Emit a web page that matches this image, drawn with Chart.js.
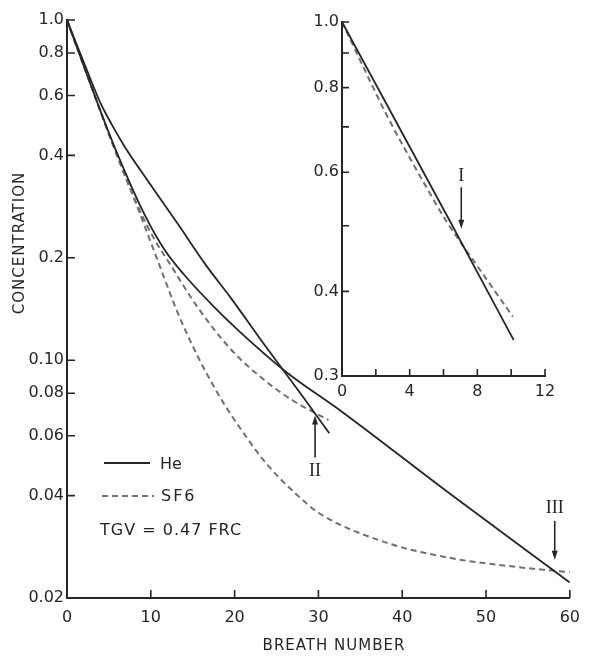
<!DOCTYPE html>
<html lang="en">
<head>
    <meta charset="UTF-8">
    <title>He and SF6 washout - breath number vs concentration</title>
    <script src="https://cdn.jsdelivr.net/npm/chart.js"></script>
    <style>
        body { margin: 0; background: #fff; }
        .wrap { position: relative; width: 590px; height: 657px; }
        #main-chart { position: absolute; left: 0; top: 0; }
        #inset-chart { position: absolute; left: 300px; top: 0; }
    </style>
</head>
<body>
    <div class="wrap">
        <canvas id="main-chart" width="590" height="657"></canvas>
        <canvas id="inset-chart" width="290" height="420"></canvas>
    </div>

    <script>
        // Main panel: concentration vs breath number (log y)
        const heShortX = [0, 2.3, 4, 5.4, 7, 9.35, 13.3, 16.6, 19.5, 23.8, 28, 31.3];
        const heShortY = [1, 0.72, 0.57, 0.49, 0.42, 0.345, 0.25, 0.19, 0.153, 0.109, 0.079, 0.061];
        const heLongX = [0, 2.3, 5.4, 9.35, 11.7, 14, 17.6, 20.5, 26, 33, 45.7, 60];
        const heLongY = [1, 0.70, 0.44, 0.265, 0.21, 0.178, 0.143, 0.122, 0.093, 0.07, 0.0405, 0.0222];
        const sf6ShortX = [0, 2.3, 5.4, 8.4, 10.5, 12.1, 15.6, 19.5, 23.4, 27, 31.2];
        const sf6ShortY = [1, 0.70, 0.435, 0.285, 0.225, 0.195, 0.143, 0.108, 0.088, 0.076, 0.0667];
        const sf6LongX = [0, 2.3, 5.4, 8.4, 10.7, 13.65, 17.6, 21.5, 24, 27.3, 30.1, 37.9, 45.8, 53.5, 60];
        const sf6LongY = [1, 0.70, 0.435, 0.282, 0.20, 0.13, 0.083, 0.059, 0.049, 0.0405, 0.0355, 0.0292, 0.0262, 0.0247, 0.0238];

        const mainXTicks = [0, 10, 20, 30, 40, 50, 60];
        const mainYTicks = [1, 0.8, 0.6, 0.4, 0.2, 0.1, 0.08, 0.06, 0.04, 0.02];
        const mainYLabels = ['1.0', '0.8', '0.6', '0.4', '0.2', '0.10', '0.08', '0.06', '0.04', '0.02'];

        // Inset: first 12 breaths
        const insetHeX = [0, 6.4, 10.15];
        const insetHeY = [1, 0.507, 0.339];
        const insetSf6X = [0, 2.64, 4.8, 6.19, 8, 10.1];
        const insetSf6Y = [1, 0.729, 0.581, 0.507, 0.436, 0.367];

        const insetXTicks = [0, 2, 4, 6, 8, 10, 12];
        const insetXLabels = ['0', '', '4', '', '8', '', '12'];
        const insetYTicks = [1, 0.9, 0.8, 0.7, 0.6, 0.5, 0.4, 0.3];
        const insetYLabels = ['1.0', '', '0.8', '', '0.6', '', '0.4', '0.3'];

        const INK = '#262626';
        const DASH_INK = '#707070';
        const FONT = "'DejaVu Sans', 'Liberation Sans', sans-serif";

        function series(label, xs, ys, dashed) {
            return {
                label: label,
                data: xs.map((x, i) => ({ x: x, y: ys[i] })),
                borderColor: dashed ? DASH_INK : INK,
                borderWidth: dashed ? 2 : 1.8,
                borderDash: dashed ? [6, 4] : [],
                pointRadius: 0,
                fill: false,
                cubicInterpolationMode: 'monotone'
            };
        }

        function drawArrow(ctx, x, y1, y2) {
            const dir = Math.sign(y2 - y1);
            ctx.beginPath();
            ctx.moveTo(x, y1);
            ctx.lineTo(x, y2 - dir * 6);
            ctx.stroke();
            ctx.beginPath();
            ctx.moveTo(x, y2);
            ctx.lineTo(x - 3, y2 - dir * 9);
            ctx.lineTo(x + 3, y2 - dir * 9);
            ctx.closePath();
            ctx.fill();
        }

        // inward tick marks, arrows, roman labels, legend and axis titles
        const decor = {
            id: 'decor',
            afterDraw(chart, args, opts) {
                const { ctx, chartArea, scales: { x, y } } = chart;
                ctx.save();
                ctx.strokeStyle = INK;
                ctx.fillStyle = INK;
                ctx.lineWidth = 1.6;
                ctx.beginPath();
                opts.xMarks.forEach(v => {
                    const px = x.getPixelForValue(v);
                    ctx.moveTo(px, chartArea.bottom);
                    ctx.lineTo(px, chartArea.bottom - opts.tickLen);
                });
                opts.yMarks.forEach(v => {
                    const py = y.getPixelForValue(v);
                    ctx.moveTo(chartArea.left, py);
                    ctx.lineTo(chartArea.left + opts.tickLen, py);
                });
                ctx.stroke();

                (opts.arrows || []).forEach(a => {
                    const px = x.getPixelForValue(a.x);
                    drawArrow(ctx, px, y.getPixelForValue(a.from), y.getPixelForValue(a.to));
                    ctx.font = "18px 'Liberation Serif', 'DejaVu Serif', serif";
                    ctx.textAlign = 'center';
                    ctx.textBaseline = 'middle';
                    ctx.fillText(a.text, px, y.getPixelForValue(a.labelAt));
                });

                if (opts.legend) {
                    ctx.font = '16px ' + FONT;
                    ctx.textAlign = 'left';
                    ctx.textBaseline = 'middle';
                    ctx.lineWidth = 1.8;
                    ctx.strokeStyle = INK;
                    ctx.beginPath();
                    ctx.moveTo(104, 463);
                    ctx.lineTo(150, 463);
                    ctx.stroke();
                    ctx.fillText('He', 160, 465);
                    ctx.strokeStyle = DASH_INK;
                    ctx.lineWidth = 2;
                    ctx.setLineDash([6, 4]);
                    ctx.beginPath();
                    ctx.moveTo(102, 496);
                    ctx.lineTo(154, 496);
                    ctx.stroke();
                    ctx.setLineDash([]);
                    ctx.letterSpacing = '2px';
                    ctx.fillText('SF6', 161, 497);
                    ctx.letterSpacing = '1px';
                    ctx.fillText('TGV = 0.47 FRC', 100, 531);
                }

                if (opts.titles) {
                    ctx.font = '15px ' + FONT;
                    ctx.letterSpacing = '1px';
                    ctx.textAlign = 'center';
                    ctx.textBaseline = 'middle';
                    ctx.fillText('BREATH NUMBER', 334, 646);
                    ctx.translate(20, 243);
                    ctx.rotate(-Math.PI / 2);
                    ctx.fillText('CONCENTRATION', 0, 0);
                }
                ctx.restore();
            }
        };

        function axisBorder() {
            return { display: true, color: INK, width: 2 };
        }

        const mainChart = new Chart(document.getElementById('main-chart'), {
            type: 'line',
            data: {
                datasets: [
                    series('He', heShortX, heShortY, false),
                    series('He', heLongX, heLongY, false),
                    series('SF6', sf6ShortX, sf6ShortY, true),
                    series('SF6', sf6LongX, sf6LongY, true)
                ]
            },
            options: {
                responsive: false,
                animation: false,
                devicePixelRatio: 1,
                layout: { padding: { top: 20, right: 12, left: 0, bottom: 0 } },
                plugins: {
                    legend: { display: false },
                    tooltip: { enabled: false },
                    decor: {
                        tickLen: 8,
                        xMarks: mainXTicks.slice(1),
                        yMarks: mainYTicks.slice(0, -1),
                        legend: true,
                        titles: true,
                        arrows: [
                            { text: 'II', x: 29.6, from: 0.0518, to: 0.0688, labelAt: 0.047 },
                            { text: 'III', x: 58.2, from: 0.0337, to: 0.0259, labelAt: 0.0368 }
                        ]
                    }
                },
                scales: {
                    x: {
                        type: 'linear',
                        min: 0,
                        max: 60,
                        afterBuildTicks: s => { s.ticks = mainXTicks.map(v => ({ value: v })); },
                        afterFit: s => { s.height = 59; },
                        grid: { display: false, drawTicks: false },
                        border: axisBorder(),
                        ticks: { autoSkip: false, maxRotation: 0, padding: 10, color: INK, font: { family: FONT, size: 16 } }
                    },
                    y: {
                        type: 'logarithmic',
                        min: 0.02,
                        max: 1,
                        afterBuildTicks: s => { s.ticks = mainYTicks.map(v => ({ value: v })); },
                        afterFit: s => { s.width = 67; },
                        grid: { display: false, drawTicks: false },
                        border: axisBorder(),
                        ticks: {
                            autoSkip: false,
                            padding: 3,
                            color: INK,
                            font: { family: FONT, size: 16 },
                            callback: v => mainYLabels[mainYTicks.indexOf(v)]
                        }
                    }
                }
            },
            plugins: [decor]
        });

        const insetChart = new Chart(document.getElementById('inset-chart'), {
            type: 'line',
            data: {
                datasets: [
                    series('He', insetHeX, insetHeY, false),
                    series('SF6', insetSf6X, insetSf6Y, true)
                ]
            },
            options: {
                responsive: false,
                animation: false,
                devicePixelRatio: 1,
                layout: { padding: { top: 22, right: 45, left: 0, bottom: 0 } },
                plugins: {
                    legend: { display: false },
                    tooltip: { enabled: false },
                    decor: {
                        tickLen: 7,
                        xMarks: insetXTicks.slice(1),
                        yMarks: insetYTicks.slice(0, -1),
                        arrows: [
                            { text: 'I', x: 7.05, from: 0.57, to: 0.495, labelAt: 0.592 }
                        ]
                    }
                },
                scales: {
                    x: {
                        type: 'linear',
                        min: 0,
                        max: 12,
                        afterBuildTicks: s => { s.ticks = insetXTicks.map(v => ({ value: v })); },
                        afterFit: s => { s.height = 44; },
                        grid: { display: false, drawTicks: false },
                        border: axisBorder(),
                        ticks: {
                            autoSkip: false,
                            maxRotation: 0,
                            padding: 6,
                            color: INK,
                            font: { family: FONT, size: 16 },
                            callback: v => insetXLabels[insetXTicks.indexOf(v)]
                        }
                    },
                    y: {
                        type: 'logarithmic',
                        min: 0.3,
                        max: 1,
                        afterBuildTicks: s => { s.ticks = insetYTicks.map(v => ({ value: v })); },
                        afterFit: s => { s.width = 42; },
                        grid: { display: false, drawTicks: false },
                        border: axisBorder(),
                        ticks: {
                            autoSkip: false,
                            padding: 3,
                            color: INK,
                            font: { family: FONT, size: 16 },
                            callback: v => insetYLabels[insetYTicks.indexOf(v)]
                        }
                    }
                }
            },
            plugins: [decor]
        });
    </script>
</body>
</html>
